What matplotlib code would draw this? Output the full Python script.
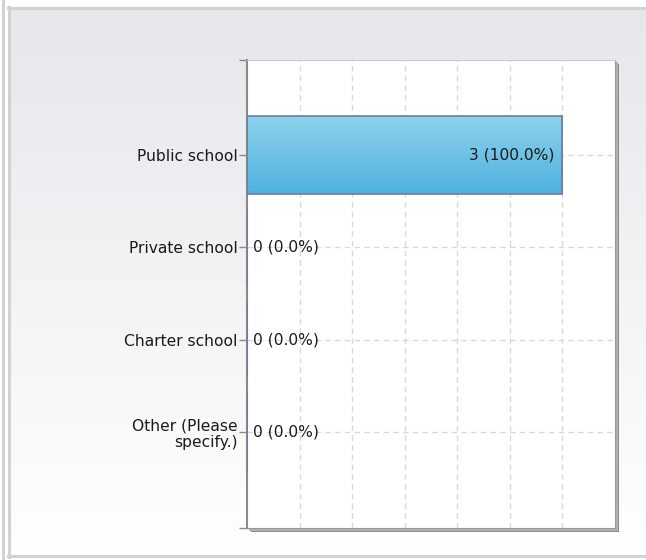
import numpy as np
import matplotlib
matplotlib.use("Agg")
import matplotlib.pyplot as plt
from matplotlib.patches import Rectangle
from matplotlib.lines import Line2D

categories = ["Public school", "Private school", "Charter school", "Other (Please\nspecify.)"]
counts = [3, 0, 0, 0]
percents = [100.0, 0.0, 0.0, 0.0]

W, H = 646, 560
fig = plt.figure(figsize=(W / 100, H / 100), dpi=100)
fig.patch.set_facecolor("white")

# background panel with vertical gradient
bg = fig.add_axes([0, 0, 1, 1], zorder=0)
bg.set_xlim(0, W)
bg.set_ylim(H, 0)
bg.axis("off")
grad = np.linspace(0, 1, 256).reshape(-1, 1)
top_c = np.array([0xe6, 0xe7, 0xeb]) / 255
bot_c = np.array([1.0, 1.0, 1.0])
img = top_c[None, None, :] * (1 - grad[:, :, None]) + bot_c[None, None, :] * grad[:, :, None]
bg.imshow(img, extent=[9, W, 556, 8], aspect="auto", interpolation="bilinear")
bg.add_line(Line2D([3, 3], [0, H], color="#cfcfcf", lw=2))
bg.add_line(Line2D([9, 9], [7, 557], color="#d2d2d2", lw=2.2))
bg.add_line(Line2D([8, W], [7.5, 7.5], color="#d2d2d2", lw=2.2))
bg.add_line(Line2D([8, W], [556, 556], color="#d2d2d2", lw=2.2))

# plot area geometry (pixels)
L, R, T, B = 247, 615, 60, 528
# shadow
bg.add_patch(Rectangle((L + 4, T + 4), R - L, B - T, facecolor="#8c8c8c", edgecolor="none", zorder=1))
bg.add_patch(Rectangle((L + 2, T + 2), R - L + 1, B - T + 1, facecolor="#b0b0b0", edgecolor="none", zorder=1))

ax = fig.add_axes([L / W, 1 - B / H, (R - L) / W, (B - T) / H], zorder=2)
ax.set_facecolor("white")
y = np.arange(len(categories))
ax.set_xlim(0, 3.5)
ax.set_ylim(4.04, -1.03)

FS = 11.2
ax.set_xticks(np.arange(0.5, 3.5, 0.5))
ax.set_yticks(y)
ax.set_yticks([-1.03, 4.04], minor=True)
ax.grid(True, which="major", color="#d9d9d9", linestyle=(0, (4, 3)), lw=1)
ax.set_axisbelow(True)
ax.tick_params(axis="x", length=0, labelbottom=False)
ax.tick_params(axis="y", which="both", length=6, width=1, color="#8a8a8a", pad=1)
ax.set_yticklabels(categories, fontsize=FS, color="#1a1a1a", family="DejaVu Sans", linespacing=1.15)

ax.spines["top"].set_color("#cccccc")
ax.spines["left"].set_color("#8a8a8a")
ax.spines["left"].set_linewidth(1.5)
ax.spines["right"].set_color("#999999")
ax.spines["bottom"].set_color("#999999")

bars = ax.barh(y, counts, height=0.84, color="none", edgecolor="#6a7ba6", linewidth=1.2, zorder=3)
gb = np.linspace(0, 1, 256).reshape(-1, 1)
c1 = np.array([0x8e, 0xd1, 0xeb]) / 255
c2 = np.array([0x4f, 0xb2, 0xe0]) / 255
bimg = c1[None, None, :] * (1 - gb[:, :, None]) + c2[None, None, :] * gb[:, :, None]
for b in bars:
    if b.get_width() > 0:
        x0, y0, w, h = b.get_x(), b.get_y(), b.get_width(), b.get_height()
        im = ax.imshow(bimg, extent=[x0, x0 + w, y0 + h, y0], aspect="auto", zorder=2.5,
                       interpolation="bilinear")
        im.set_clip_path(b)

for yi, c, p in zip(y, counts, percents):
    lab = f"{c} ({p:.1f}%)"
    if c > 0:
        ax.text(c - 0.08, yi, lab, ha="right", va="center", fontsize=FS, color="#1a1a1a", zorder=4)
    else:
        ax.text(0.055, yi, lab, ha="left", va="center", fontsize=FS, color="#1a1a1a", zorder=4)

fig.savefig("out.png", dpi=100)
